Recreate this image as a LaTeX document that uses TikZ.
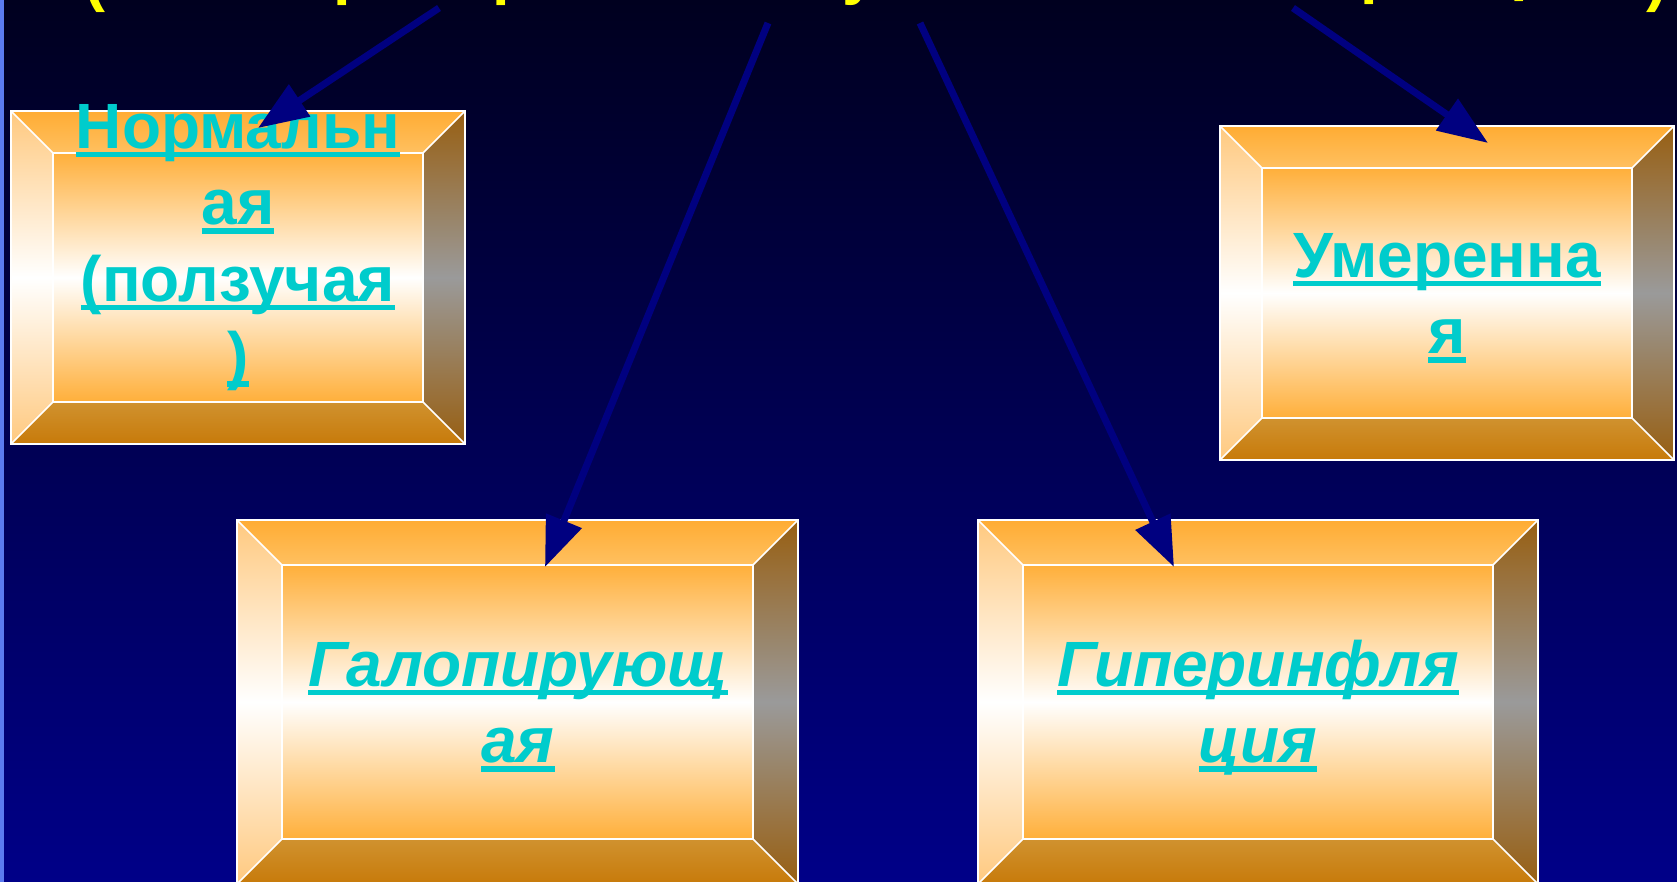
\documentclass[tikz,border=0pt]{standalone}
\usepackage{fontspec}
\setmainfont{Liberation Sans}
\usetikzlibrary{arrows.meta}

\definecolor{bgtop}{HTML}{00001F}
\definecolor{bgbot}{HTML}{000088}
\definecolor{edgeblue}{HTML}{5B7BF0}
\definecolor{arrblue}{HTML}{000080}
\definecolor{txtcyan}{HTML}{00CCCC}
\definecolor{ttlyellow}{HTML}{FFFF00}
\definecolor{facecol}{HTML}{FFAF3A}
\definecolor{bvtop}{HTML}{FFAC33}
\definecolor{bvtoplow}{HTML}{FFC060}
\definecolor{bvleft}{HTML}{FFC97F}
\definecolor{bvright}{HTML}{985F12}
\definecolor{bvrightmid}{HTML}{9A9A9A}
\definecolor{bvbot}{HTML}{D0922F}
\definecolor{bvbotlow}{HTML}{C77A0A}

% thick underline
\newcommand{\undl}[1]{{\setbox0\hbox{#1}\rlap{\rule[-4.5pt]{\wd0}{2.8pt}}\box0}}

\tikzset{
  lbl/.style={text=txtcyan, font=\fontsize{32}{38.25}\selectfont\bfseries,
    align=center, anchor=north, inner sep=0pt},
  lbli/.style={lbl, font=\fontsize{32}{38.25}\selectfont\bfseries\itshape},
  ttl/.style={text=ttlyellow, font=\fontsize{31.5}{38.25}\selectfont\bfseries, inner sep=0pt},
  edge/.style={draw=white, line width=0.75pt},
  arr/.style={draw=arrblue, line width=3.5pt, -{Triangle[length=25pt,width=18.5pt]}}
}

\begin{document}
\begin{tikzpicture}[x=0.5pt, y=-0.5pt]
    % Background
    \useasboundingbox (0,0) rectangle (1677,882);
    \shade[top color=bgtop, bottom color=bgbot] (0,0) rectangle (1677,882);
    \fill[edgeblue] (0,0) rectangle (4,882);

    % Title (cut off at the top edge)
    \node[ttl, anchor=base west] (lpar) at (84,0) {(};
    \node[ttl, anchor=base west] (ttla) at (333,-7) {р};
    \node[ttl, anchor=base west] (ttlb) at (492,-7) {р};
    \node[ttl, anchor=base west] (ttlc) at (842,-7) {у};
    \node[ttl, anchor=base west] (ttld) at (1360,-8) {р};
    \node[ttl, anchor=base west] (ttle) at (1510,-11) {р};
    \node[ttl, anchor=base east] (rpar) at (1668,0) {)};

    % Bevelled boxes
    \foreach \xa/\ya/\xb/\yb/\bv in {11/111/465/444/42, 1220/126/1674/460/42,
                                     237/520/798/884/45, 978/520/1538/884/45} {
        \shade[top color=bvtop, bottom color=bvtoplow]
            (\xa,\ya) -- (\xb,\ya) -- (\xb-\bv,\ya+\bv) -- (\xa+\bv,\ya+\bv) -- cycle;
        \shade[top color=bvbot, bottom color=bvbotlow]
            (\xa,\yb) -- (\xb,\yb) -- (\xb-\bv,\yb-\bv) -- (\xa+\bv,\yb-\bv) -- cycle;
        \shade[top color=bvleft, bottom color=bvleft, middle color=white]
            (\xa,\ya) -- (\xa+\bv,\ya+\bv) -- (\xa+\bv,\yb-\bv) -- (\xa,\yb) -- cycle;
        \shade[top color=bvright, bottom color=bvright, middle color=bvrightmid]
            (\xb,\ya) -- (\xb-\bv,\ya+\bv) -- (\xb-\bv,\yb-\bv) -- (\xb,\yb) -- cycle;
        \shade[top color=facecol, bottom color=facecol, middle color=white]
            (\xa+\bv,\ya+\bv) rectangle (\xb-\bv,\yb-\bv);
        \draw[edge] (\xa,\ya) rectangle (\xb,\yb);
        \draw[edge] (\xa+\bv,\ya+\bv) rectangle (\xb-\bv,\yb-\bv);
        \draw[edge] (\xa,\ya) -- (\xa+\bv,\ya+\bv) (\xb,\ya) -- (\xb-\bv,\ya+\bv)
                    (\xa,\yb) -- (\xa+\bv,\yb-\bv) (\xb,\yb) -- (\xb-\bv,\yb-\bv);
    }

    % Box labels
    \node[lbl] (normal) at (238,98)
        {\rule{0pt}{25pt}\undl{Нормальн}\\\undl{ая}\\\undl{(ползучая}\\\undl{)}};
    \node[lbl] (moderate) at (1447,227) {\rule{0pt}{25pt}\undl{Умеренна}\\\undl{я}};
    \node[lbli] (galloping) at (518,636) {\rule{0pt}{25pt}\undl{Галопирующ}\\\undl{ая}};
    \node[lbli] (hyper) at (1258,636) {\rule{0pt}{25pt}\undl{Гиперинфля}\\\undl{ция}};

    % Arrows
    \coordinate (s1) at (439,8);    \coordinate (e1) at (258,128);
    \coordinate (s2) at (768,23);   \coordinate (e2) at (545,567);
    \coordinate (s3) at (920,23);   \coordinate (e3) at (1174,567);
    \coordinate (s4) at (1293,8);   \coordinate (e4) at (1488,143);
    \draw[arr] (s1) -- (e1);
    \draw[arr] (s2) -- (e2);
    \draw[arr] (s3) -- (e3);
    \draw[arr] (s4) -- (e4);

\end{tikzpicture}
\end{document}
